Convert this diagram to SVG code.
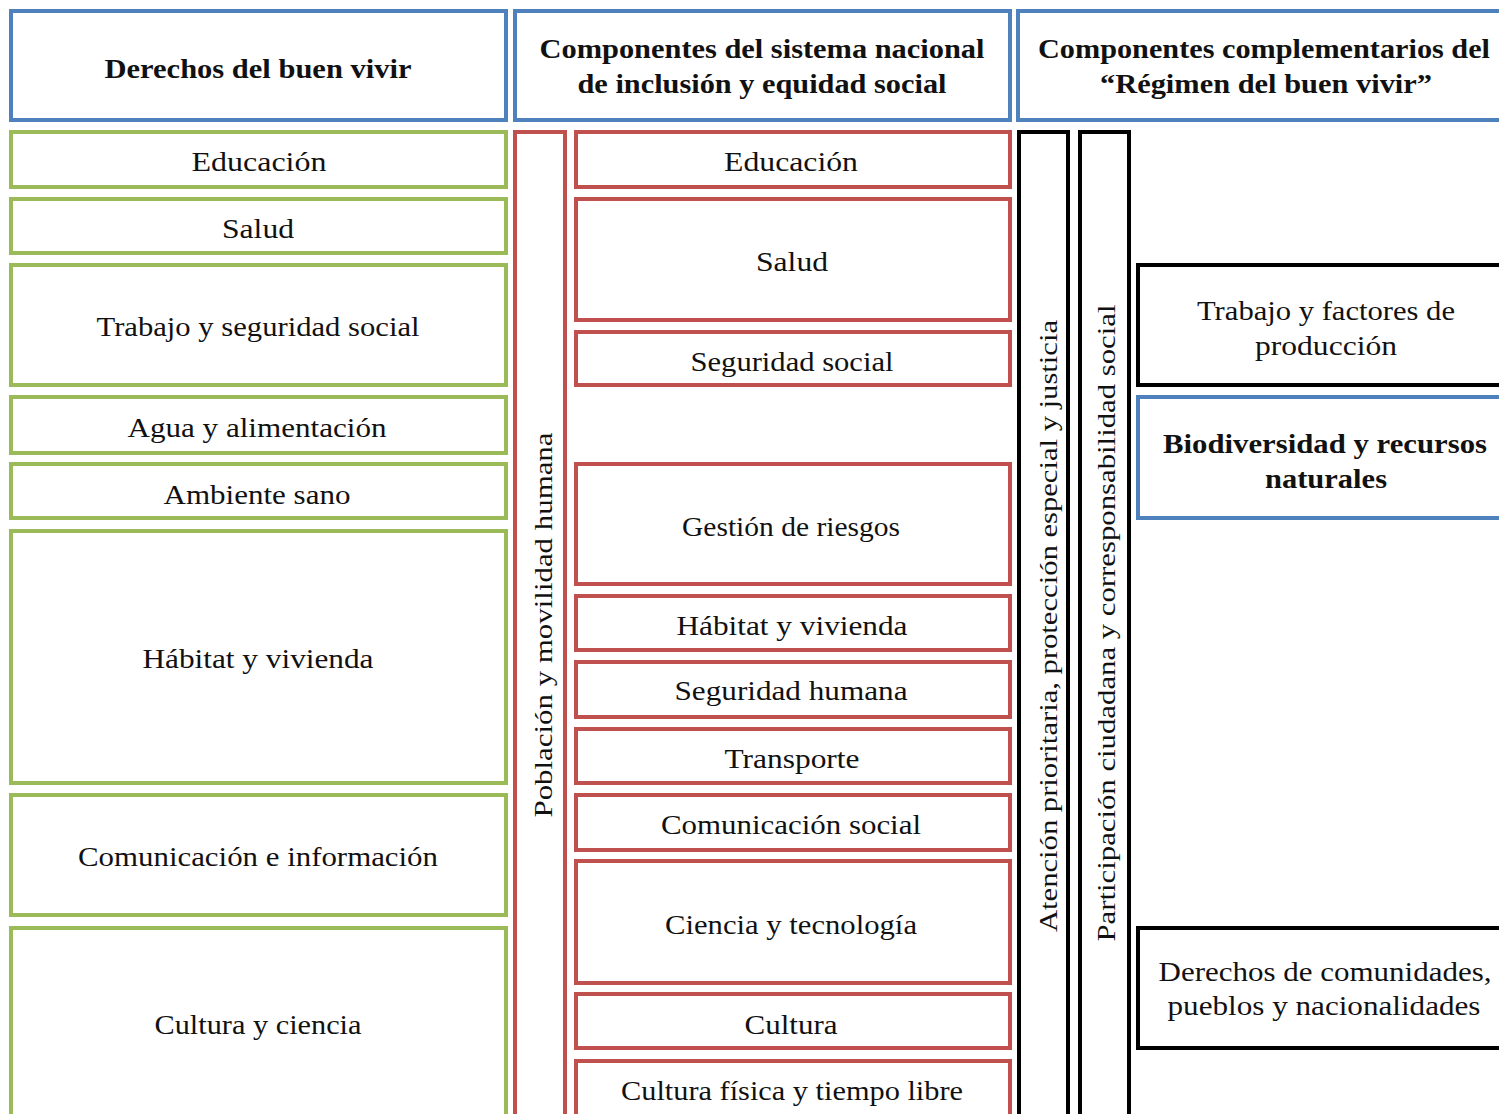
<svg xmlns="http://www.w3.org/2000/svg" width="1499" height="1114" viewBox="0 0 1499 1114">
<style>
rect{fill:#fff;stroke-width:4}
.b{stroke:#4F81BD}.g{stroke:#9BBB59}.r{stroke:#C0504D}.k{stroke:#000}
text{font-family:'Liberation Serif',serif;font-size:28px;fill:#111;text-anchor:middle}
.h{font-weight:bold;font-size:28px}
.v{font-size:26px}
</style>
<rect width="1499" height="1114" fill="#fff" style="stroke:none"/>
<g id="headers">
<g id="h1"><rect class="b" x="11" y="11" width="495" height="109"/><text class="h" x="258" y="78" textLength="307" lengthAdjust="spacingAndGlyphs">Derechos del buen vivir</text></g>
<g id="h2"><rect class="b" x="515" y="11" width="495" height="109"/><text class="h" x="762" y="58" textLength="445" lengthAdjust="spacingAndGlyphs">Componentes del sistema nacional</text><text class="h" x="762" y="93" textLength="369" lengthAdjust="spacingAndGlyphs">de inclusión y equidad social</text></g>
<g id="h3"><rect class="b" x="1018" y="11" width="495" height="109"/><text class="h" x="1264" y="58" textLength="452" lengthAdjust="spacingAndGlyphs">Componentes complementarios del</text><text class="h" x="1266" y="93" textLength="332" lengthAdjust="spacingAndGlyphs">“Régimen del buen vivir”</text></g>
</g>
<g id="left">
<g id="l1"><rect class="g" x="11" y="132" width="495" height="55"/><text x="259" y="171" textLength="135" lengthAdjust="spacingAndGlyphs">Educación</text></g>
<g id="l2"><rect class="g" x="11" y="199" width="495" height="54"/><text x="258" y="238" textLength="72" lengthAdjust="spacingAndGlyphs">Salud</text></g>
<g id="l3"><rect class="g" x="11" y="265" width="495" height="120"/><text x="258" y="336" textLength="323" lengthAdjust="spacingAndGlyphs">Trabajo y seguridad social</text></g>
<g id="l4"><rect class="g" x="11" y="397" width="495" height="56"/><text x="257" y="437" textLength="259" lengthAdjust="spacingAndGlyphs">Agua y alimentación</text></g>
<g id="l5"><rect class="g" x="11" y="464" width="495" height="54"/><text x="257" y="504" textLength="187" lengthAdjust="spacingAndGlyphs">Ambiente sano</text></g>
<g id="l6"><rect class="g" x="11" y="531" width="495" height="252"/><text x="258" y="668" textLength="231" lengthAdjust="spacingAndGlyphs">Hábitat y vivienda</text></g>
<g id="l7"><rect class="g" x="11" y="795" width="495" height="120"/><text x="258" y="866" textLength="360" lengthAdjust="spacingAndGlyphs">Comunicación e información</text></g>
<g id="l8"><rect class="g" x="11" y="928" width="495" height="200"/><text x="258" y="1034" textLength="207" lengthAdjust="spacingAndGlyphs">Cultura y ciencia</text></g>
</g>
<g id="middle">
<g id="pob"><rect class="r" x="515" y="132" width="50" height="1000"/><text class="v" transform="translate(552,625) rotate(-90)" textLength="385" lengthAdjust="spacingAndGlyphs">Población y movilidad humana</text></g>
<g id="m1"><rect class="r" x="576" y="132" width="434" height="55"/><text x="791" y="171" textLength="134" lengthAdjust="spacingAndGlyphs">Educación</text></g>
<g id="m2"><rect class="r" x="576" y="199" width="434" height="121"/><text x="792" y="271" textLength="72" lengthAdjust="spacingAndGlyphs">Salud</text></g>
<g id="m3"><rect class="r" x="576" y="332" width="434" height="53"/><text x="792" y="371" textLength="203" lengthAdjust="spacingAndGlyphs">Seguridad social</text></g>
<g id="m4"><rect class="r" x="576" y="464" width="434" height="120"/><text x="791" y="536" textLength="218" lengthAdjust="spacingAndGlyphs">Gestión de riesgos</text></g>
<g id="m5"><rect class="r" x="576" y="596" width="434" height="54"/><text x="792" y="635" textLength="231" lengthAdjust="spacingAndGlyphs">Hábitat y vivienda</text></g>
<g id="m6"><rect class="r" x="576" y="662" width="434" height="55"/><text x="791" y="700" textLength="233" lengthAdjust="spacingAndGlyphs">Seguridad humana</text></g>
<g id="m7"><rect class="r" x="576" y="729" width="434" height="54"/><text x="792" y="768" textLength="135" lengthAdjust="spacingAndGlyphs">Transporte</text></g>
<g id="m8"><rect class="r" x="576" y="795" width="434" height="55"/><text x="791" y="834" textLength="260" lengthAdjust="spacingAndGlyphs">Comunicación social</text></g>
<g id="m9"><rect class="r" x="576" y="861" width="434" height="122"/><text x="791" y="934" textLength="252" lengthAdjust="spacingAndGlyphs">Ciencia y tecnología</text></g>
<g id="m10"><rect class="r" x="576" y="994" width="434" height="54"/><text x="791" y="1034" textLength="93" lengthAdjust="spacingAndGlyphs">Cultura</text></g>
<g id="m11"><rect class="r" x="576" y="1061" width="434" height="80"/><text x="792" y="1100" textLength="342" lengthAdjust="spacingAndGlyphs">Cultura física y tiempo libre</text></g>
</g>
<g id="right">
<g id="c1"><rect class="k" x="1019" y="132" width="49" height="1000"/><text class="v" transform="translate(1057,626) rotate(-90)" textLength="612" lengthAdjust="spacingAndGlyphs">Atención prioritaria, protección especial y justicia</text></g>
<g id="c2"><rect class="k" x="1080" y="132" width="49" height="1000"/><text class="v" transform="translate(1115,623) rotate(-90)" textLength="637" lengthAdjust="spacingAndGlyphs">Participación ciudadana y corresponsabilidad social</text></g>
<g id="r1"><rect class="k" x="1138" y="265" width="380" height="120"/><text x="1326" y="320" textLength="258" lengthAdjust="spacingAndGlyphs">Trabajo y factores de</text><text x="1326" y="355" textLength="142" lengthAdjust="spacingAndGlyphs">producción</text></g>
<g id="r2"><rect class="b" x="1138" y="397" width="380" height="121"/><text class="h" x="1325" y="453" textLength="324" lengthAdjust="spacingAndGlyphs">Biodiversidad y recursos</text><text class="h" x="1326" y="488" textLength="122" lengthAdjust="spacingAndGlyphs">naturales</text></g>
<g id="r3"><rect class="k" x="1138" y="928" width="380" height="120"/><text x="1325" y="981" textLength="333" lengthAdjust="spacingAndGlyphs">Derechos de comunidades,</text><text x="1324" y="1015" textLength="313" lengthAdjust="spacingAndGlyphs">pueblos y nacionalidades</text></g>
</g>
</svg>
